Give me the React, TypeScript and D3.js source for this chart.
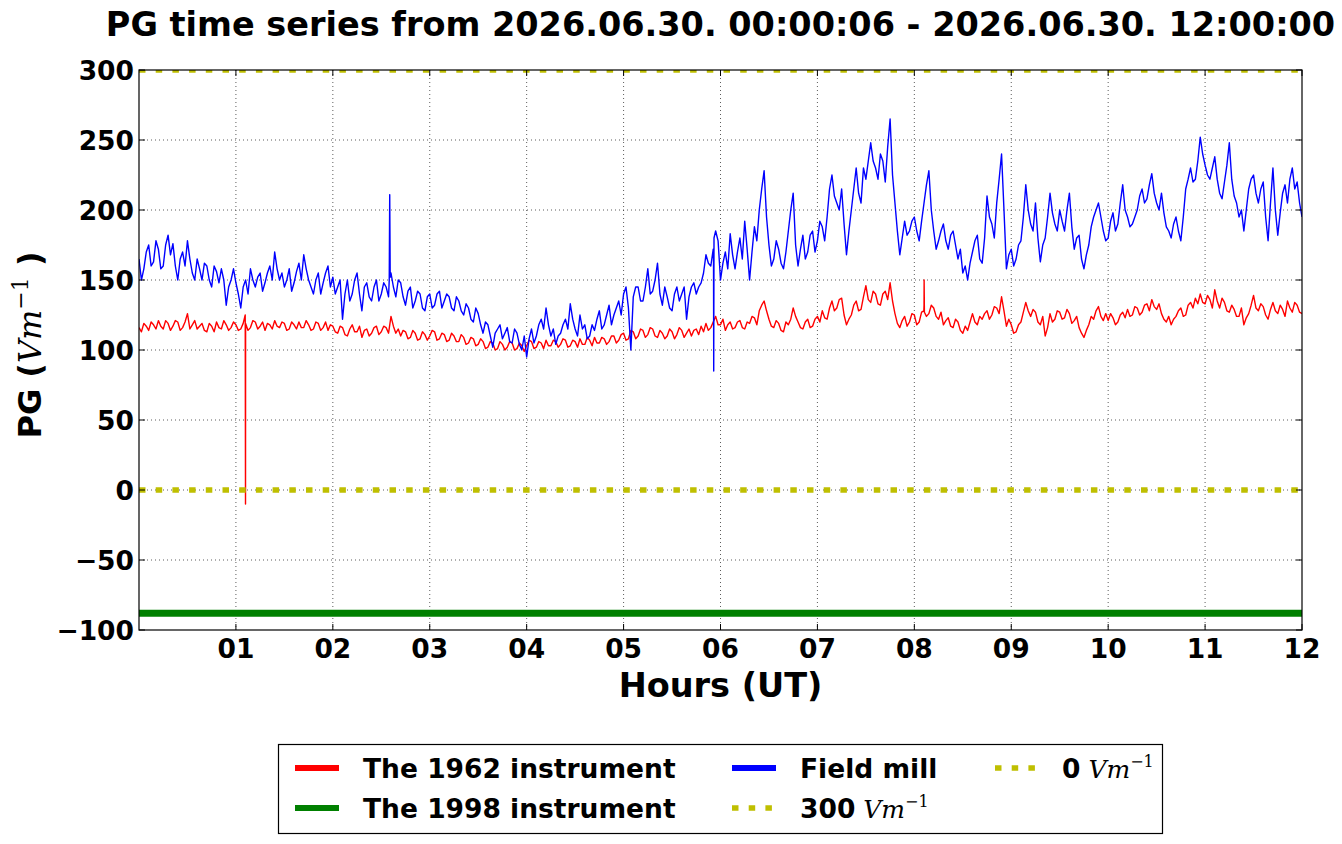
import React from "react";
import * as d3 from "d3";

// ---- data (hours UT, PG in V/m) ----
// main samples every 3 minutes (t = i * 0.05 h)
const STEP_H = 0.05;
const fieldMill: number[] = [
  165, 158, 175, 163, 172, 160, 182, 176, 150, 170, 178, 155, 165, 150, 160, 145, 156, 158, 132, 150,
  148, 130, 150, 158, 145, 155, 148, 160, 170, 150, 145, 158, 148, 162, 168, 150, 140, 155, 148, 160,
  152, 145, 122, 150, 140, 155, 128, 148, 135, 150, 140, 145, 155, 138, 148, 132, 145, 135, 140, 128,
  140, 132, 142, 135, 138, 128, 135, 125, 130, 120, 126, 112, 118, 102, 115, 108, 116, 105, 112, 100,
  95, 115, 110, 122, 130, 110, 104, 112, 122, 133, 115, 125, 118, 110, 114, 128, 118, 132, 125, 135,
  140, 130, 138, 145, 135, 158, 142, 162, 132, 138, 128, 145, 140, 122, 145, 140, 148, 168, 160, 185,
  150, 170, 183, 158, 180, 192, 150, 188, 200, 228, 175, 165, 172, 158, 185, 212, 160, 182, 170, 185,
  178, 188, 195, 225, 205, 215, 168, 200, 230, 205, 222, 248, 230, 240, 220, 265, 205, 168, 192, 185,
  195, 178, 205, 228, 185, 178, 190, 172, 185, 165, 155, 150, 170, 182, 162, 210, 190, 205, 240, 158,
  172, 165, 178, 218, 190, 205, 163, 180, 212, 190, 200, 185, 212, 172, 182, 158, 175, 195, 205, 185,
  180, 198, 190, 218, 195, 190, 200, 215, 208, 226, 205, 212, 188, 180, 195, 178, 215, 230, 222, 252,
  232, 222, 238, 212, 220, 248, 210, 195, 185, 215, 225, 205, 220, 178, 230, 182, 212, 205, 230, 220,
  195,
];
// in-between samples (t = i * 0.05 + 0.025 h)
const fieldMillMid: number[] = [
  150, 170, 160, 178, 158, 175, 168, 160, 165, 160, 165, 150, 158, 162, 150, 160, 148, 150, 145, 158,
  140, 145, 140, 150, 152, 142, 155, 150, 158, 155, 150, 142, 156, 150, 158, 145, 150, 140, 155, 145,
  140, 150, 140, 135, 150, 140, 145, 138, 145, 135, 148, 138, 145, 150, 138, 142, 130, 142, 130, 138,
  130, 140, 130, 140, 130, 138, 128, 133, 122, 130, 118, 120, 110, 112, 118, 112, 106, 115, 104, 110,
  108, 105, 118, 115, 118, 115, 110, 118, 115, 122, 110, 115, 108, 118, 122, 115, 125, 118, 130, 125,
  145, 100, 145, 135, 145, 140, 150, 140, 145, 130, 140, 135, 145, 138, 148, 145, 155, 162, 172, 178,
  162, 158, 168, 170, 165, 172, 170, 178, 215, 195, 160, 178, 162, 170, 200, 175, 172, 165, 182, 170,
  192, 178, 215, 210, 200, 190, 185, 215, 212, 230, 235, 235, 222, 235, 245, 225, 185, 180, 182, 192,
  185, 192, 218, 200, 172, 185, 178, 182, 175, 172, 160, 162, 178, 165, 180, 195, 180, 222, 200, 168,
  160, 175, 195, 200, 185, 180, 175, 195, 198, 185, 192, 200, 188, 180, 165, 168, 188, 200, 195, 178,
  192, 185, 205, 200, 188, 195, 210, 205, 218, 212, 200, 198, 185, 190, 185, 195, 222, 220, 235, 240,
  225, 230, 222, 208, 232, 222, 205, 200, 200, 222, 212, 215, 195, 205, 200, 198, 218, 222, 215, 205,
];
const instrument1962: number[] = [
  116, 119, 114, 118, 121, 115, 119, 117, 120, 116, 126, 118, 115, 119, 113, 117, 120, 115, 118, 116,
  118, 115, 119, 116, 120, 117, 114, 118, 121, 116, 119, 115, 118, 120, 116, 118, 115, 119, 116, 114,
  117, 112, 116, 110, 118, 113, 109, 115, 112, 117, 113, 116, 124, 112, 110, 113, 109, 112, 108, 111,
  110, 113, 108, 111, 107, 110, 106, 109, 105, 108, 104, 106, 102, 105, 101, 104, 102, 105, 101, 103,
  103, 106, 102, 105, 107, 103, 106, 104, 107, 103, 106, 108, 104, 107, 109, 105, 108, 106, 110, 107,
  112, 108, 113, 110, 114, 111, 115, 109, 112, 110, 113, 111, 114, 112, 110, 115, 117, 119, 116, 124,
  118, 114, 120, 116, 121, 115, 119, 123, 128, 135, 122, 116, 119, 113, 118, 130, 120, 115, 122, 117,
  124, 128, 122, 135, 130, 137, 118, 125, 135, 129, 146, 134, 140, 132, 142, 148, 126, 116, 124, 120,
  125, 120, 132, 126, 130, 122, 118, 123, 116, 120, 112, 114, 126, 118, 122, 128, 125, 130, 138, 117,
  118, 113, 120, 134, 124, 127, 118, 110, 126, 122, 127, 123, 126, 121, 116, 109, 118, 122, 131, 121,
  121, 123, 120, 127, 129, 125, 130, 127, 133, 136, 129, 126, 120, 118, 124, 130, 125, 134, 137, 140,
  133, 136, 143, 130, 134, 127, 129, 124, 118, 126, 139, 128, 131, 122, 134, 126, 129, 135, 127, 132,
  126,
];
const instrument1962Mid: number[] = [
  113, 117, 120, 115, 117, 121, 114, 121, 114, 120, 115, 121, 117, 114, 119, 113, 116, 121, 114, 120,
  114, 119, 114, 121, 115, 120, 119, 115, 117, 120, 114, 120, 115, 116, 121, 114, 120, 114, 120, 118,
  113, 117, 111, 115, 113, 117, 114, 110, 116, 111, 117, 112, 117, 115, 114, 108, 114, 107, 113, 107,
  114, 107, 112, 106, 112, 106, 111, 104, 109, 103, 108, 101, 106, 100, 106, 100, 106, 100, 105, 99,
  107, 101, 106, 101, 103, 107, 102, 108, 102, 107, 102, 104, 109, 103, 105, 109, 104, 110, 105, 111,
  107, 114, 108, 115, 109, 116, 110, 114, 108, 115, 108, 116, 109, 115, 114, 111, 113, 114, 120, 118,
  122, 118, 115, 120, 116, 120, 124, 118, 132, 128, 117, 121, 114, 120, 122, 124, 116, 120, 116, 122,
  120, 123, 130, 128, 136, 125, 122, 132, 128, 138, 136, 142, 133, 140, 136, 135, 119, 121, 117, 126,
  118, 127, 124, 132, 124, 127, 121, 117, 122, 114, 117, 120, 120, 124, 126, 122, 131, 126, 128, 122,
  112, 118, 127, 128, 129, 120, 124, 116, 120, 128, 122, 129, 119, 124, 112, 114, 124, 128, 124, 126,
  126, 118, 125, 123, 124, 131, 125, 132, 128, 131, 133, 122, 124, 122, 128, 124, 132, 130, 133, 134,
  139, 130, 135, 137, 128, 132, 124, 130, 123, 132, 130, 133, 125, 129, 128, 132, 124, 130, 134, 127,
];
const instrument1998 = -88;
// narrow spikes [hour, value]
const fieldMillSpikes: [number, number][] = [
  [2.582, 150], [2.587, 211], [2.592, 152],
  [5.928, 165], [5.93, 85], [5.933, 180],
];
const instrument1962Spikes: [number, number][] = [
  [1.096, 125], [1.099, -10],
  [8.098, 128], [8.101, 150], [8.104, 127],
];
const refLines = [300, 0];
const xTicks = [1, 2, 3, 4, 5, 6, 7, 8, 9, 10, 11, 12];
const yTicks = [-100, -50, 0, 50, 100, 150, 200, 250, 300];
const titleText = "PG time series from 2026.06.30. 00:00:06 - 2026.06.30. 12:00:00";

const COLORS = { red: "#ff0000", green: "#008000", blue: "#0000ff", yellow: "#bfbf00" };

function series(values: number[], mids: number[], spikes: [number, number][]): [number, number][] {
  const pts: [number, number][] = values.map((v, i) => [i * STEP_H, v]);
  const mp: [number, number][] = mids.map((v, i) => [i * STEP_H + STEP_H / 2, v]);
  return pts.concat(mp, spikes).sort((a, b) => a[0] - b[0]);
}

export default function App() {
  const W = 1342, H = 844;
  const L = 139, R = 1302, T = 70, B = 630;
  const x = d3.scaleLinear().domain([0, 12]).range([L, R]);
  const y = d3.scaleLinear().domain([-100, 300]).range([B, T]);
  const line = d3.line<[number, number]>().x((d) => x(d[0])).y((d) => y(d[1]));
  const blue = series(fieldMill, fieldMillMid, fieldMillSpikes);
  const red = series(instrument1962, instrument1962Mid, instrument1962Spikes);
  const font = "'DejaVu Sans', sans-serif";
  const mathFont = "'DejaVu Serif', serif";
  const dotted = "6.5 10.2";

  const legendItems = [
    { col: 0, row: 0, color: COLORS.red, dash: null, label: "The 1962 instrument", math: false },
    { col: 0, row: 1, color: COLORS.green, dash: null, label: "The 1998 instrument", math: false },
    { col: 1, row: 0, color: COLORS.blue, dash: null, label: "Field mill", math: false },
    { col: 1, row: 1, color: COLORS.yellow, dash: dotted, label: "300", math: true },
    { col: 2, row: 0, color: COLORS.yellow, dash: dotted, label: "0", math: true },
  ];
  const colX = [295, 732, 995];
  const rowY = [768, 808];

  return (
    <svg width={W} height={H} style={{ position: "absolute", left: 0, top: 0, background: "#fff" }}>
      <defs>
        <clipPath id="plot">
          <rect x={L} y={T} width={R - L} height={B - T} />
        </clipPath>
      </defs>
      <rect x={0} y={0} width={W} height={H} fill="#fff" />
      <text x={(L + R) / 2} y={36} textAnchor="middle" fontFamily={font} fontWeight="bold" fontSize={33.5}>
        {titleText}
      </text>
      {/* grid */}
      <g stroke="#000" strokeWidth={0.8} strokeDasharray="1 3" opacity={0.8}>
        {xTicks.filter((t) => t < 12).map((t) => (
          <line key={"gx" + t} x1={x(t)} x2={x(t)} y1={T} y2={B} />
        ))}
        {yTicks.filter((t) => t > -100 && t < 300).map((t) => (
          <line key={"gy" + t} x1={L} x2={R} y1={y(t)} y2={y(t)} />
        ))}
      </g>
      <g clipPath="url(#plot)">
        <path d={line(red) || ""} fill="none" stroke={COLORS.red} strokeWidth={1.4} strokeLinejoin="round" />
        <path d={line(blue) || ""} fill="none" stroke={COLORS.blue} strokeWidth={1.4} strokeLinejoin="round" />
        <line x1={L} x2={R} y1={y(instrument1998)} y2={y(instrument1998)} stroke={COLORS.green} strokeWidth={7} />
        {refLines.map((v) => (
          <line key={"ref" + v} x1={L} x2={R} y1={y(v)} y2={y(v)} stroke={COLORS.yellow}
            strokeWidth={5.5} strokeDasharray={dotted} />
        ))}
      </g>
      {/* frame and ticks */}
      <rect x={L} y={T} width={R - L} height={B - T} fill="none" stroke="#000" strokeWidth={1.2} />
      <g stroke="#000" strokeWidth={1}>
        {xTicks.map((t) => (
          <g key={"tx" + t}>
            <line x1={x(t)} x2={x(t)} y1={B} y2={B - 6} />
            <line x1={x(t)} x2={x(t)} y1={T} y2={T + 6} />
          </g>
        ))}
        {yTicks.map((t) => (
          <g key={"ty" + t}>
            <line x1={L} x2={L + 6} y1={y(t)} y2={y(t)} />
            <line x1={R} x2={R - 6} y1={y(t)} y2={y(t)} />
          </g>
        ))}
      </g>
      <g fontFamily={font} fontWeight="bold" fontSize={26.5}>
        {xTicks.map((t) => (
          <text key={"lx" + t} x={x(t)} y={658} textAnchor="middle">
            {String(t).padStart(2, "0")}
          </text>
        ))}
        {yTicks.map((t) => (
          <text key={"ly" + t} x={L - 5} y={y(t)} dy="0.36em" textAnchor="end">
            {t < 0 ? "\u2212" + Math.abs(t) : String(t)}
          </text>
        ))}
      </g>
      <text x={(L + R) / 2} y={697} textAnchor="middle" fontFamily={font} fontWeight="bold" fontSize={33.5}>
        Hours (UT)
      </text>
      <text transform={`translate(41, ${(T + B) / 2 - 5}) rotate(-90)`} textAnchor="middle"
        fontFamily={font} fontWeight="bold" fontSize={32}>
        PG (
        <tspan fontFamily={mathFont} fontStyle="italic" fontWeight="normal">Vm</tspan>
        <tspan fontFamily={mathFont} fontWeight="normal" fontSize={22} dy={-13}>{"\u22121"}</tspan>
        <tspan dy={13}> )</tspan>
      </text>
      {/* legend */}
      <rect x={278.5} y={744.5} width={884} height={89} fill="#fff" stroke="#000" strokeWidth={1.2} />
      {legendItems.map((it, i) => {
        const lx = colX[it.col];
        const ly = rowY[it.row];
        const len = it.dash ? 40 : 44;
        return (
          <g key={"leg" + i}>
            <line x1={lx} x2={lx + len} y1={ly} y2={ly} stroke={it.color}
              strokeWidth={it.dash ? 5.5 : 6} strokeDasharray={it.dash || undefined} />
            <text x={lx + (it.col === 2 ? 67 : 68)} y={ly} dy="0.36em" fontFamily={font} fontWeight="bold" fontSize={26.5}>
              {it.label}
              {it.math && (
                <>
                  <tspan fontFamily={mathFont} fontStyle="italic" fontWeight="normal" fontSize={25}>{" Vm"}</tspan>
                  <tspan fontFamily={mathFont} fontWeight="normal" fontSize={16} dy={-11}>{"\u22121"}</tspan>
                </>
              )}
            </text>
          </g>
        );
      })}
    </svg>
  );
}
